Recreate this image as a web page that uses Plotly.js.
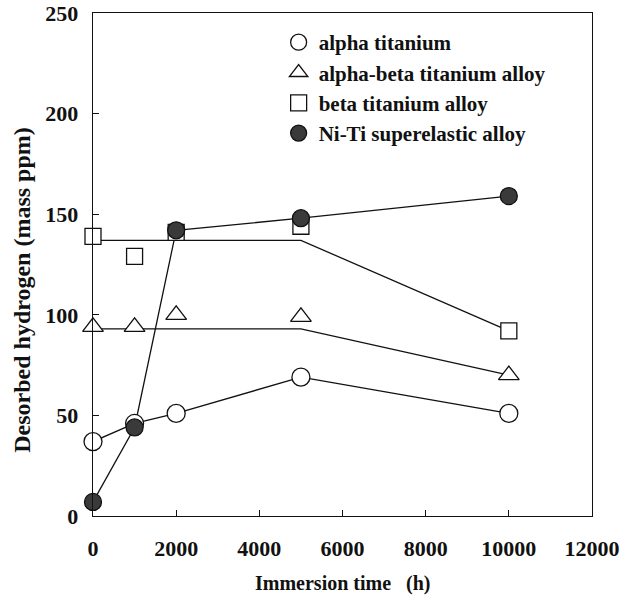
<!DOCTYPE html>
<html>
<head>
<meta charset="utf-8">
<script src="https://cdn.plot.ly/plotly-3.0.1.min.js"></script>
<style>html,body{margin:0;padding:0;background:#fff;}#chart{width:625px;height:605px;}</style>
</head>
<body>
<div id="chart"></div>
<script>
// Immersion time (h)
const timeH = [0, 1000, 2000, 5000, 10000];
// Desorbed hydrogen (mass ppm) markers
const alphaTi = [37, 46, 51, 69, 51];
const alphaBetaTi = [94, 94, 100, 99, 70];
const betaTi = [139, 129, 141, 144, 92];
const niTi = [7, 44, 142, 148, 159];
// Drawn guide lines (as in the original figure)
const alphaLineX = [0, 1000, 2000, 5000, 10000];
const alphaLineY = [37, 46, 51, 69, 51];
const alphaBetaLineX = [0, 5000, 10000];
const alphaBetaLineY = [93, 93, 70];
const betaLineX = [0, 5000, 10000];
const betaLineY = [137, 137, 92];
const niTiLineX = [0, 1000, 2000, 5000, 10000];
const niTiLineY = [7, 44, 142, 148, 159];
const seriesNames = ['alpha titanium', 'alpha-beta titanium alloy', 'beta titanium alloy', 'Ni-Ti superelastic alloy'];
const xTicks = [0, 2000, 4000, 6000, 8000, 10000, 12000];
const yTicks = [0, 50, 100, 150, 200, 250];

const FONT = 'Liberation Serif, Times New Roman, serif';
const lineStyle = {color: '#111', width: 1.3};

function lineTrace(x, y) {
  return {x: x, y: y, mode: 'lines', line: lineStyle, showlegend: false, hoverinfo: 'skip', cliponaxis: false};
}
function markerTrace(y, name, symbol, size, fill, group) {
  return {x: timeH, y: y, name: name, mode: 'markers', legendgroup: group, cliponaxis: false,
    marker: {symbol: symbol, size: size, color: fill, line: {color: '#111', width: 1.3}}};
}

const data = [
  lineTrace(alphaLineX, alphaLineY),
  lineTrace(alphaBetaLineX, alphaBetaLineY),
  lineTrace(betaLineX, betaLineY),
  lineTrace(niTiLineX, niTiLineY),
  markerTrace(alphaTi, seriesNames[0], 'circle', 18, '#fff', 'a'),
  markerTrace(alphaBetaTi, seriesNames[1], 'triangle-up', 18, '#fff', 'b'),
  markerTrace(betaTi, seriesNames[2], 'square', 16, '#fff', 'c'),
  markerTrace(niTi, seriesNames[3], 'circle', 17, '#3a3a3a', 'd')
];

const layout = {
  width: 625, height: 605,
  margin: {l: 93, r: 33, t: 13, b: 89},
  paper_bgcolor: '#fff', plot_bgcolor: '#fff',
  font: {family: FONT, size: 22, color: '#111', weight: 'bold'},
  showlegend: true,
  legend: {x: 0.372, y: 0.982, xanchor: 'left', yanchor: 'top', bgcolor: 'rgba(0,0,0,0)',
    traceorder: 'grouped', tracegroupgap: 0, itemwidth: 30,
    font: {family: FONT, size: 21, color: '#111', weight: 'bold'}},
  xaxis: {range: [0, 12000], tickvals: xTicks, ticktext: xTicks.map(String),
    ticks: 'inside', ticklen: 6, tickcolor: '#111', showgrid: false, zeroline: false,
    showline: true, linecolor: '#111', linewidth: 1.3, mirror: true, ticklabelstandoff: 12,
    tickfont: {family: FONT, size: 22, color: '#111', weight: 'bold'}},
  yaxis: {range: [0, 250], tickvals: yTicks, ticktext: yTicks.map(String),
    ticks: 'inside', ticklen: 6, tickcolor: '#111', showgrid: false, zeroline: false,
    showline: true, linecolor: '#111', linewidth: 1.3, mirror: true, ticklabelstandoff: 9,
    tickfont: {family: FONT, size: 22, color: '#111', weight: 'bold'}},
  annotations: [
    {text: 'Immersion time &nbsp;&nbsp;(h)', xref: 'paper', yref: 'paper', x: 0.5, y: -0.135,
      xanchor: 'center', yanchor: 'middle', showarrow: false,
      font: {family: FONT, size: 20, color: '#111', weight: 'bold'}},
    {text: 'Desorbed hydrogen (mass ppm)', xref: 'paper', yref: 'paper', x: -0.142, y: 0.45,
      xanchor: 'center', yanchor: 'middle', textangle: -90, showarrow: false,
      font: {family: FONT, size: 24, color: '#111', weight: 'bold'}}
  ]
};

Plotly.newPlot('chart', data, layout, {displayModeBar: false, staticPlot: true});
</script>
</body>
</html>
